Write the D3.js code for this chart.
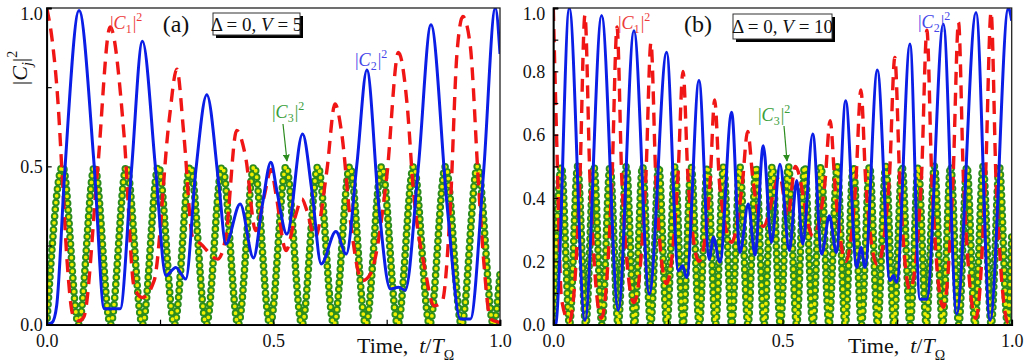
<!DOCTYPE html>
<html>
<head>
<meta charset="utf-8">
<script src="https://cdn.jsdelivr.net/npm/d3@7"></script>
<style>
  body { margin: 0; background: #fff; }
  svg { display: block; font-family: "Liberation Serif", "Times New Roman", serif; }
</style>
</head>
<body>
<svg id="chart" width="1024" height="364"></svg>
<script>
// ---- panel (a): Delta = 0, V = 5 ----
// turning points of |C3|^2
const greenA = [
  [0, 0], [0.0352, 0.5], [0.0704, 0], [0.1056, 0.5], [0.1408, 0], [0.176, 0.5], [0.2112, 0],
  [0.2464, 0.5], [0.2816, 0], [0.3168, 0.5], [0.352, 0], [0.3872, 0.5], [0.4224, 0], [0.4576, 0.5],
  [0.4928, 0], [0.528, 0.5], [0.5632, 0], [0.5984, 0.5], [0.6336, 0], [0.6688, 0.5], [0.704, 0],
  [0.7392, 0.5], [0.7744, 0], [0.8096, 0.5], [0.8448, 0], [0.88, 0.5], [0.9152, 0], [0.9504, 0.5],
  [0.9856, 0], [1.0, 0.16]
];
// |C2|^2 (solid blue)
const blueA = [
  [0, 0], [0.012, 0.007], [0.022, 0.06], [0.0397, 0.48], [0.0714, 0.992], [0.1045, 0.507],
  [0.127, 0.05], [0.162, 0.05], [0.1869, 0.486], [0.2112, 0.895], [0.2406, 0.486], [0.2627, 0.155],
  [0.2848, 0.181], [0.3068, 0.144], [0.3289, 0.486], [0.3532, 0.726], [0.3804, 0.434], [0.3951, 0.255],
  [0.4268, 0.381], [0.4562, 0.211], [0.4761, 0.381], [0.4945, 0.513], [0.5077, 0.423], [0.5298, 0.286],
  [0.5644, 0.602], [0.585, 0.423], [0.6056, 0.192], [0.638, 0.294], [0.6608, 0.223], [0.6843, 0.507],
  [0.7064, 0.804], [0.7322, 0.381], [0.7579, 0.113], [0.7763, 0.118], [0.791, 0.109], [0.8204, 0.507],
  [0.8477, 0.947], [0.883, 0.381], [0.9125, 0.018], [0.9346, 0.018], [0.964, 0.486], [0.9897, 1.0],
  [1.0, 0.855]
];
// |C1|^2 (dashed red)
const redA = [
  [0, 1.0], [0.012, 0.9], [0.025, 0.7], [0.035, 0.45], [0.045, 0.2], [0.058, 0.03], [0.071, 0.012],
  [0.082, 0.025], [0.112, 0.486], [0.14, 0.94], [0.171, 0.592], [0.193, 0.118], [0.211, 0.086],
  [0.237, 0.139], [0.27, 0.644], [0.287, 0.807], [0.303, 0.592], [0.322, 0.276], [0.34, 0.255],
  [0.377, 0.207], [0.395, 0.276], [0.419, 0.613], [0.439, 0.528], [0.461, 0.297], [0.48, 0.407],
  [0.495, 0.49], [0.506, 0.41], [0.528, 0.234], [0.548, 0.339], [0.563, 0.397], [0.574, 0.36],
  [0.592, 0.276], [0.618, 0.486], [0.636, 0.697], [0.651, 0.602], [0.67, 0.328], [0.696, 0.139],
  [0.714, 0.16], [0.75, 0.465], [0.776, 0.86], [0.795, 0.697], [0.809, 0.423], [0.835, 0.171],
  [0.854, 0.06], [0.872, 0.071], [0.89, 0.36], [0.905, 0.855], [0.918, 0.973], [0.934, 0.886],
  [0.953, 0.434], [0.964, 0.202], [0.979, 0.018], [1.0, 0.007]
];

// ---- panel (b): Delta = 0, V = 10 ----
const greenB = [
  [0, 0], [0.0177, 0.5], [0.0354, 0], [0.0531, 0.5], [0.0708, 0], [0.0885, 0.5], [0.1061, 0],
  [0.1238, 0.5], [0.1415, 0], [0.1592, 0.5], [0.1769, 0], [0.1946, 0.5], [0.2123, 0], [0.23, 0.5],
  [0.2477, 0], [0.2654, 0.5], [0.283, 0], [0.3007, 0.5], [0.3184, 0], [0.3361, 0.5], [0.3538, 0],
  [0.3715, 0.5], [0.3892, 0], [0.4069, 0.5], [0.4246, 0], [0.4423, 0.5], [0.4599, 0], [0.4776, 0.5],
  [0.4953, 0], [0.513, 0.5], [0.5307, 0], [0.5484, 0.5], [0.5661, 0], [0.5838, 0.5], [0.6015, 0],
  [0.6192, 0.5], [0.6368, 0], [0.6545, 0.5], [0.6722, 0], [0.6899, 0.5], [0.7076, 0], [0.7253, 0.5],
  [0.743, 0], [0.7607, 0.5], [0.7784, 0], [0.7961, 0.5], [0.8137, 0], [0.8314, 0.5], [0.8491, 0],
  [0.8668, 0.5], [0.8845, 0], [0.9022, 0.5], [0.9199, 0], [0.9376, 0.5], [0.9553, 0], [0.973, 0.5],
  [0.9906, 0], [1.0, 0.28]
];
const blueB = [
  [0, 0], [0.006, 0.005], [0.0349, 1.0], [0.069, 0.013], [0.1054, 0.976], [0.1418, 0.046],
  [0.176, 0.928], [0.2094, 0.097], [0.2472, 0.86], [0.2727, 0.17], [0.2821, 0.186], [0.2909, 0.149],
  [0.3178, 0.771], [0.3403, 0.207], [0.349, 0.276], [0.3636, 0.197], [0.389, 0.671], [0.4072, 0.228],
  [0.4254, 0.381], [0.44, 0.22], [0.458, 0.565], [0.476, 0.26], [0.4945, 0.507], [0.515, 0.234],
  [0.531, 0.455], [0.544, 0.255], [0.566, 0.602], [0.5855, 0.223], [0.6023, 0.344], [0.6175, 0.228],
  [0.6378, 0.707], [0.6618, 0.181], [0.6713, 0.244], [0.68, 0.181], [0.7069, 0.804], [0.7345, 0.139],
  [0.7418, 0.155], [0.749, 0.134], [0.7781, 0.886], [0.7999, 0.08], [0.8145, 0.08], [0.8509, 0.949],
  [0.8799, 0.034], [0.9222, 0.986], [0.9528, 0.013], [0.9927, 1.0], [1.0, 0.96]
];
const redB = [
  [0, 1.0], [0.008, 0.55], [0.018, 0.08], [0.035, 0.01], [0.058, 0.46], [0.069, 0.977], [0.08, 0.46],
  [0.105, 0.02], [0.128, 0.46], [0.139, 0.94], [0.15, 0.44], [0.176, 0.07], [0.202, 0.47], [0.213, 0.89],
  [0.224, 0.45], [0.247, 0.13], [0.272, 0.47], [0.283, 0.8], [0.294, 0.46], [0.318, 0.2], [0.342, 0.45],
  [0.352, 0.71], [0.363, 0.44], [0.389, 0.26], [0.412, 0.44], [0.424, 0.61], [0.436, 0.45], [0.458, 0.31],
  [0.494, 0.47], [0.511, 0.34], [0.528, 0.5], [0.566, 0.28], [0.592, 0.44], [0.604, 0.644], [0.615, 0.43],
  [0.638, 0.2], [0.66, 0.45], [0.671, 0.741], [0.682, 0.44], [0.707, 0.19], [0.733, 0.46], [0.745, 0.844],
  [0.756, 0.45], [0.778, 0.11], [0.803, 0.46], [0.815, 0.93], [0.826, 0.45], [0.851, 0.055], [0.872, 0.46],
  [0.884, 0.955], [0.895, 0.45], [0.922, 0.02], [0.943, 0.47], [0.955, 0.987], [0.966, 0.45],
  [0.993, 0.005], [1.0, 0.01]
];

// ticks
const xTicks = [0, 0.25, 0.5, 0.75, 1.0];
const xTickLabels = [0, 0.5, 1.0];
const yTicksA = [0, 0.25, 0.5, 0.75, 1.0];
const yTickLabelsA = [0, 0.5, 1.0];
const yTicksB = [0, 0.1, 0.2, 0.3, 0.4, 0.5, 0.6, 0.7, 0.8, 0.9, 1.0];
const yTickLabelsB = [0, 0.2, 0.4, 0.6, 0.8, 1.0];

const COLORS = { red: '#f01616', blue: '#0a1ee6', green: '#2c8c1e', yellow: '#f2f000',
  redText: '#ec3a3a', blueText: '#4646e8', greenText: '#3a9e3a' };

const svg = d3.select('#chart');
const defs = svg.append('defs');
defs.append('marker').attr('id', 'arrow').attr('viewBox', '0 0 10 10')
  .attr('refX', 9).attr('refY', 5).attr('markerWidth', 7).attr('markerHeight', 7)
  .attr('markerUnits', 'userSpaceOnUse').attr('orient', 'auto')
  .append('path').attr('d', 'M0,0 L10,5 L0,10 z').attr('fill', COLORS.green);

const panels = [
  { id: 'a', left: 46.7, right: 500, green: greenA, blue: blueA, red: redA,
    yTicks: yTicksA, yLabels: yTickLabelsA, yPad: 4, tag: '(a)', tagX: 176,
    boxX: 213, boxY: 13, boxW: 87, boxH: 22, vText: '5',
    lab1: [110, 29], lab2: [355, 66], lab3: [272, 118], arrow: [[283, 124], [287, 161]],
    timeX: 357 },
  { id: 'b', left: 553.3, right: 1011.7, green: greenB, blue: blueB, red: redB,
    yTicks: yTicksB, yLabels: yTickLabelsB, yPad: 8, tag: '(b)', tagX: 698,
    boxX: 733, boxY: 14, boxW: 99, boxH: 25, vText: '10',
    lab1: [618, 29], lab2: [918, 28], lab3: [758, 121], arrow: [[784, 126], [787, 161]],
    timeX: 848 }
];

const TOP = 8, BOTTOM = 324.7;

function curveLabel(g, x, y, sub, color) {
  const t = g.append('text').attr('x', x).attr('y', y).attr('fill', color).style('font-size', '18px');
  t.append('tspan').text('|');
  t.append('tspan').attr('font-style', 'italic').text('C');
  t.append('tspan').attr('dy', 4).style('font-size', '12px').text(sub);
  t.append('tspan').attr('dy', -4).attr('dx', 1).text('|');
  t.append('tspan').attr('dy', -8).style('font-size', '12px').text('2');
}

panels.forEach(p => {
  const x = d3.scaleLinear().domain([0, 1]).range([p.left, p.right]);
  const y = d3.scaleLinear().domain([0, 1]).range([BOTTOM, TOP]);
  const g = svg.append('g');

  const clipId = 'clip-' + p.id;
  defs.append('clipPath').attr('id', clipId).append('rect')
    .attr('x', p.left).attr('y', TOP).attr('width', p.right - p.left).attr('height', BOTTOM - TOP);

  const line = d3.line().x(d => x(d[0])).y(d => y(d[1])).curve(d3.curveMonotoneX);
  const plot = g.append('g').attr('clip-path', `url(#${clipId})`);

  // |C3|^2 as ring markers along the curve
  plot.append('path').datum(p.green).attr('d', line).attr('fill', 'none')
    .attr('stroke', COLORS.green).attr('stroke-width', 7.6)
    .attr('stroke-linecap', 'round').attr('stroke-dasharray', '0 6.8');
  plot.append('path').datum(p.green).attr('d', line).attr('fill', 'none')
    .attr('stroke', COLORS.yellow).attr('stroke-width', 3.8)
    .attr('stroke-linecap', 'round').attr('stroke-dasharray', '0 6.8');

  plot.append('path').datum(p.red).attr('d', line).attr('fill', 'none')
    .attr('stroke', COLORS.red).attr('stroke-width', 3.4).attr('stroke-dasharray', '13 8');
  plot.append('path').datum(p.blue).attr('d', line).attr('fill', 'none')
    .attr('stroke', COLORS.blue).attr('stroke-width', 3);

  // frame
  g.append('rect').attr('x', p.left).attr('y', TOP).attr('width', p.right - p.left)
    .attr('height', BOTTOM - TOP).attr('fill', 'none').attr('stroke', '#222').attr('stroke-width', 1.3);

  const fmt = d3.format('.1f');
  const xAxis = g.append('g').attr('transform', `translate(0,${BOTTOM})`)
    .call(d3.axisBottom(x).tickValues(xTicks).tickSize(-5).tickPadding(10)
      .tickFormat(d => xTickLabels.includes(d) ? fmt(d) : ''));
  const yAxis = g.append('g').attr('transform', `translate(${p.left},0)`)
    .call(d3.axisLeft(y).tickValues(p.yTicks).tickSize(-5).tickPadding(p.yPad)
      .tickFormat(d => p.yLabels.includes(d) ? fmt(d) : ''));
  [xAxis, yAxis].forEach(a => {
    a.select('.domain').attr('stroke', '#000').attr('stroke-width', 1.8);
    a.selectAll('.tick line').attr('stroke', '#000').attr('stroke-width', 1.2);
    a.selectAll('.tick text').attr('fill', '#111').style('font-size', '18px')
      .style('font-family', '"Liberation Serif", serif');
  });
  // keep the top label inside the picture
  yAxis.selectAll('.tick text').attr('dy', d => d === 1 ? '0.62em' : '0.34em');

  // panel tag
  g.append('text').attr('x', p.tagX).attr('y', 32).attr('text-anchor', 'middle')
    .style('font-size', '24px').attr('fill', '#111').text(p.tag);

  // parameter box with shadow
  g.append('rect').attr('x', p.boxX + 3).attr('y', p.boxY + 3).attr('width', p.boxW).attr('height', p.boxH)
    .attr('fill', '#000');
  g.append('rect').attr('x', p.boxX).attr('y', p.boxY).attr('width', p.boxW).attr('height', p.boxH)
    .attr('fill', '#fff').attr('stroke', '#333').attr('stroke-width', 1);
  const bt = g.append('text').attr('x', p.boxX + p.boxW / 2).attr('y', p.boxY + p.boxH / 2 + 6.5)
    .attr('text-anchor', 'middle').style('font-size', '19px').attr('fill', '#111');
  bt.append('tspan').text('\u0394 = 0, ');
  bt.append('tspan').attr('font-style', 'italic').text('V');
  bt.append('tspan').text(' = ' + p.vText);

  // curve labels
  curveLabel(g, p.lab1[0], p.lab1[1], '1', COLORS.redText);
  curveLabel(g, p.lab2[0], p.lab2[1], '2', COLORS.blueText);
  curveLabel(g, p.lab3[0], p.lab3[1], '3', COLORS.greenText);
  g.append('line').attr('x1', p.arrow[0][0]).attr('y1', p.arrow[0][1])
    .attr('x2', p.arrow[1][0]).attr('y2', p.arrow[1][1])
    .attr('stroke', COLORS.green).attr('stroke-width', 1.2).attr('marker-end', 'url(#arrow)');

  // time label
  const tl = g.append('text').attr('x', p.timeX).attr('y', 353).style('font-size', '22px').attr('fill', '#111');
  tl.append('tspan').text('Time,\u00a0\u00a0');
  tl.append('tspan').attr('font-style', 'italic').text('t');
  tl.append('tspan').text('/');
  tl.append('tspan').attr('font-style', 'italic').text('T');
  tl.append('tspan').attr('dy', 7).style('font-size', '14px').text('\u03a9');
});

// y-axis title of panel (a)
const yt = svg.append('text').attr('transform', 'translate(27,68) rotate(-90)')
  .attr('text-anchor', 'middle').style('font-size', '22px').attr('fill', '#111');
yt.append('tspan').text('|');
yt.append('tspan').attr('font-style', 'italic').text('C');
yt.append('tspan').attr('dy', 5).attr('font-style', 'italic').style('font-size', '14px').text('j');
yt.append('tspan').attr('dy', -5).text('|');
yt.append('tspan').attr('dy', -10).style('font-size', '14px').text('2');
</script>
</body>
</html>
